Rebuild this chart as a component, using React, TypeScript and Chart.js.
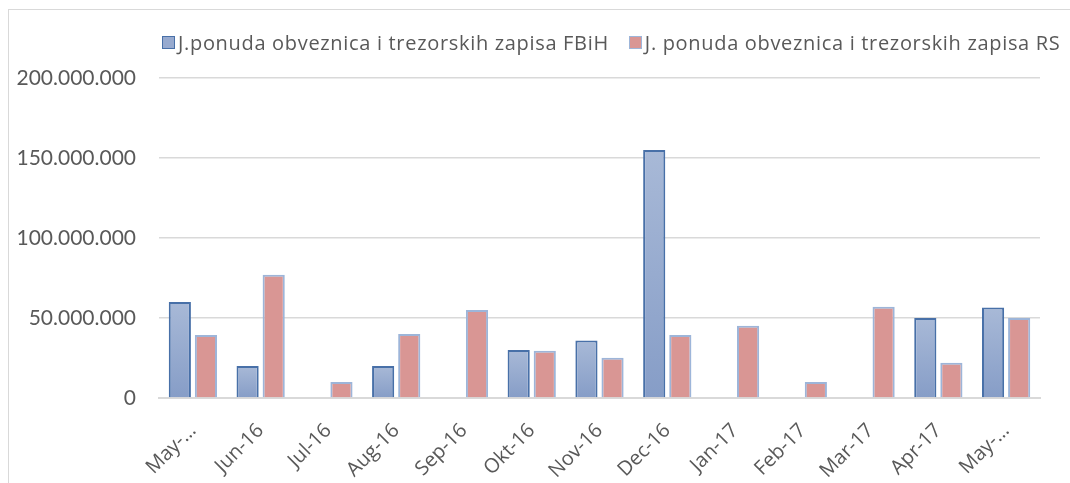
import React, { useEffect, useRef } from "react";
import { Chart, registerables } from "chart.js";

Chart.register(...registerables);

const categories = ["May-…", "Jun-16", "Jul-16", "Aug-16", "Sep-16", "Okt-16", "Nov-16", "Dec-16", "Jan-17", "Feb-17", "Mar-17", "Apr-17", "May-…"];
const fbihValues = [60000000, 20000000, null, 20000000, null, 30000000, 36000000, 155000000, null, null, null, 50000000, 56500000];
const rsValues = [39400000, 77000000, 10000000, 40000000, 55000000, 29600000, 25200000, 39400000, 45200000, 10000000, 57000000, 22000000, 50000000];
const seriesNames = ["J.ponuda obveznica i trezorskih zapisa FBiH", "J. ponuda obveznica i trezorskih zapisa RS"];
const yTicks = [0, 50000000, 100000000, 150000000, 200000000];

const FONT = "Lato, 'Open Sans', sans-serif";
const FONT2 = "'Open Sans', Lato, sans-serif";
const TEXT = "#595959";

function fmt(n: number): string {
  const s = Math.round(n).toString();
  return s.replace(/\B(?=(\d{3})+(?!\d))/g, ".");
}

export default function App() {
  const ref = useRef<HTMLCanvasElement | null>(null);

  useEffect(() => {
    if (!ref.current) return;
    const fbihFill = (ctx: any) => {
      const chart = ctx.chart;
      const ys = chart.scales && chart.scales.y;
      const v = ctx.raw;
      if (!ys || v == null || !chart.ctx) return "#97aacf";
      const top = ys.getPixelForValue(v);
      const bottom = ys.getPixelForValue(0);
      if (!isFinite(top) || !isFinite(bottom) || top === bottom) return "#97aacf";
      const g = chart.ctx.createLinearGradient(0, top, 0, bottom);
      g.addColorStop(0, "#a8b9d7");
      g.addColorStop(1, "#869dc7");
      return g;
    };
    const chart = new Chart(ref.current, {
      type: "bar",
      data: {
        labels: categories,
        datasets: [
          {
            label: seriesNames[0],
            data: fbihValues as any,
            backgroundColor: fbihFill as any,
            borderColor: "#4870a8",
            borderWidth: 2,
            categoryPercentage: 0.77,
            barPercentage: 0.85,
          },
          {
            label: seriesNames[1],
            data: rsValues,
            backgroundColor: "#d99694",
            borderColor: "#9db5d9",
            borderWidth: 2,
            categoryPercentage: 0.77,
            barPercentage: 0.85,
          },
        ],
      },
      options: {
        animation: false,
        responsive: false,
        maintainAspectRatio: false,
        layout: { padding: { left: 0, right: 30, top: 78, bottom: 0 } },
        plugins: {
          legend: { display: false },
          title: { display: false },
          tooltip: { enabled: false },
        },
        scales: {
          x: {
            grid: { display: false, drawTicks: false },
            border: { display: true, color: "#d9d9d9", width: 2 },
            ticks: {
              autoSkip: false,
              minRotation: 45,
              maxRotation: 45,
              padding: 21,
              color: TEXT,
              font: { family: FONT2, size: 20 },
            },
            afterFit: (s: any) => {
              s.height = 85;
            },
          },
          y: {
            min: 0,
            max: 200000000,
            afterBuildTicks: (s: any) => {
              s.ticks = yTicks.map((v) => ({ value: v }));
            },
            grid: { color: "#d9d9d9", lineWidth: 1.5, drawTicks: false },
            border: { display: false },
            ticks: {
              padding: 23,
              color: TEXT,
              font: { family: FONT, size: 21 },
              callback: (v: any) => fmt(Number(v)),
            },
            afterFit: (s: any) => {
              s.width = 159;
            },
          },
        },
      },
    });
    return () => chart.destroy();
  }, []);

  const legendItem = (color: string, border: string, text: string, mr: number) => (
    <div style={{ display: "flex", alignItems: "center", marginRight: mr }}>
      <div style={{ width: 11, height: 11, background: color, border: `1px solid ${border}`, marginRight: 3 }} />
      <span style={{ fontFamily: FONT2, fontSize: 20, letterSpacing: 0.68, color: TEXT, whiteSpace: "nowrap" }}>{text}</span>
    </div>
  );

  return (
    <div style={{ position: "fixed", left: 0, top: 0, width: 1070, height: 483, background: "#fff", overflow: "hidden" }}>
      <div style={{ position: "absolute", left: 8, top: 9, width: 1200, height: 700, border: "1px solid #d9d9d9", boxSizing: "border-box" }} />
      <canvas ref={ref} width={1070} height={483} style={{ position: "absolute", left: 0, top: 0, width: 1070, height: 483 }} />
      <div style={{ position: "absolute", left: 162, top: 29, display: "flex" }}>
        {legendItem("#97aacf", "#4870a8", seriesNames[0], 20)}
        {legendItem("#d99694", "#9db5d9", seriesNames[1], 0)}
      </div>
    </div>
  );
}
